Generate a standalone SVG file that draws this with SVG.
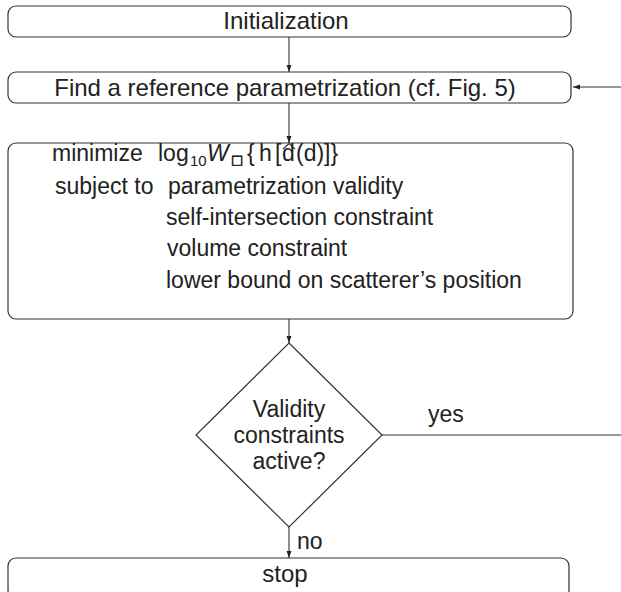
<svg xmlns="http://www.w3.org/2000/svg" width="621" height="592" viewBox="0 0 621 592">
<defs>
<marker id="arr" viewBox="0 0 10 10" refX="10" refY="5" markerWidth="7" markerHeight="7" orient="auto" markerUnits="userSpaceOnUse">
<path d="M0,1.5 L10,5 L0,8.5 z" fill="#222"/>
</marker>
<style>
.box{fill:#fff;stroke:#333;stroke-width:1.2}
.t{font-family:"Liberation Sans",Arial,sans-serif;font-size:23px;fill:#222}
.b{font-size:24px}
.c{stroke:#333;stroke-width:1.1;fill:none}
</style>
</defs>
<rect width="621" height="592" fill="#fff"/>
<g id="connectors">
<line class="c" x1="289" y1="37" x2="289" y2="72" marker-end="url(#arr)"/>
<line class="c" x1="289" y1="103" x2="289" y2="143" marker-end="url(#arr)"/>
<line class="c" x1="289" y1="319" x2="289" y2="343" marker-end="url(#arr)"/>
<line class="c" x1="289" y1="527" x2="289" y2="558" marker-end="url(#arr)"/>
<line class="c" x1="382" y1="435" x2="621" y2="435"/>
<line class="c" x1="621" y1="87" x2="573" y2="87" marker-end="url(#arr)"/>
<text class="t" x="428" y="422">yes</text>
<text class="t" x="297" y="549">no</text>
</g>
<g id="init">
<rect class="box" x="8" y="6" width="563" height="31" rx="8"/>
<text class="t b" x="286" y="29" text-anchor="middle">Initialization</text>
</g>
<g id="reference">
<rect class="box" x="8" y="72" width="563" height="31" rx="8"/>
<text class="t b" x="285" y="96" text-anchor="middle">Find a reference parametrization (cf. Fig. 5)</text>
</g>
<g id="optimize">
<rect class="box" x="8" y="143" width="565" height="176" rx="8"/>
<text class="t" y="161"><tspan x="52">minimize</tspan><tspan x="158">log</tspan><tspan x="190" dy="5" font-size="15">10</tspan><tspan x="207" dy="-5" font-style="italic">W</tspan><tspan x="231" dy="3" font-family="DejaVu Sans" font-size="13" font-weight="bold" stroke="#222" stroke-width="0.6">□</tspan><tspan x="247" dy="-3">{</tspan><tspan x="259">h</tspan><tspan x="275">[</tspan><tspan x="282">d</tspan><tspan x="296">(d)]}</tspan></text>
<path class="c" d="M283,149 L289,143.5 L295,149"/>
<text class="t" y="194"><tspan x="55">subject to</tspan><tspan x="168">parametrization validity</tspan></text>
<text class="t" x="166" y="225">self-intersection constraint</text>
<text class="t" x="167" y="256">volume constraint</text>
<text class="t" x="166" y="288">lower bound on scatterer’s position</text>
</g>
<g id="decision">
<polygon class="box" points="289,343 382,435 289,527 196,435"/>
<text class="t" x="289" y="417" text-anchor="middle">Validity</text>
<text class="t" x="289" y="443" text-anchor="middle">constraints</text>
<text class="t" x="289" y="469" text-anchor="middle">active?</text>
</g>
<g id="stop">
<rect class="box" x="8" y="558" width="561" height="40" rx="8"/>
<text class="t b" x="285" y="582" text-anchor="middle">stop</text>
</g>
</svg>
